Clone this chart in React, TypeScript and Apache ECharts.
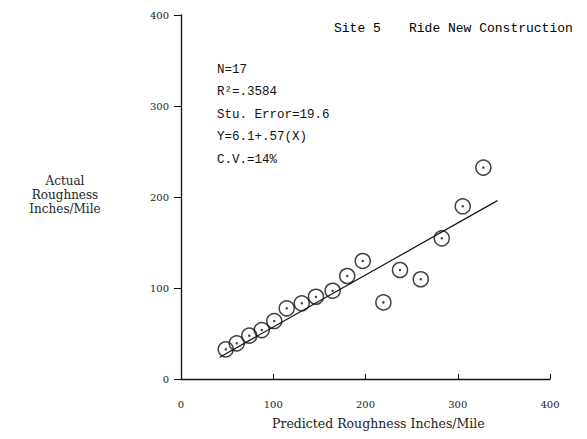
import React, { useEffect, useRef } from "react";
import * as echarts from "echarts";

const xTicks = [0, 100, 200, 300, 400];
const yTicks = [0, 100, 200, 300, 400];

const predicted = [48.5, 60.4, 74.0, 87.5, 101.1, 114.6, 130.9, 146.3, 164.4, 180.2, 197.0, 219.4, 237.4, 259.9, 282.7, 305.4, 327.8];
const actual = [32.6, 39.2, 47.6, 53.8, 63.7, 77.7, 83.2, 90.4, 97.0, 113.2, 129.7, 84.2, 119.8, 109.6, 154.6, 189.8, 232.3];

const fitLine = [
  [42, 24],
  [343, 196],
];

const statsLines = ["N=17", "R²=.3584", "Stu. Error=19.6", "Y=6.1+.57(X)", "C.V.=14%"];
const siteLabel = "Site 5";
const titleLabel = "Ride New Construction";
const xName = "Predicted Roughness Inches/Mile";
const yName = "Actual\nRoughness\nInches/Mile";

export default function App() {
  const ref = useRef<HTMLDivElement>(null);
  useEffect(() => {
    if (!ref.current) return;
    const chart = echarts.init(ref.current, null, { renderer: "svg" });
    const pts = predicted.map((x, i) => [x, actual[i]]);
    const serif = "DejaVu Serif";
    const mono = "Liberation Mono";
    chart.setOption({
      animation: false,
      backgroundColor: "#fff",
      grid: { left: 181, right: 37, top: 15, bottom: 60, containLabel: false },
      xAxis: {
        type: "value",
        min: xTicks[0],
        max: xTicks[xTicks.length - 1],
        interval: 100,
        splitLine: { show: false },
        axisLine: { lineStyle: { color: "#111", width: 1.3 } },
        axisTick: { inside: true, length: 5, lineStyle: { color: "#111" } },
        axisLabel: { color: "#222", fontFamily: serif, fontSize: 10, margin: 20 },
      },
      yAxis: {
        type: "value",
        min: yTicks[0],
        max: yTicks[yTicks.length - 1],
        interval: 100,
        splitLine: { show: false },
        axisLine: { show: true, lineStyle: { color: "#111", width: 1.3 } },
        axisTick: { show: true, length: 7, lineStyle: { color: "#111" } },
        axisLabel: { color: "#222", fontFamily: serif, fontSize: 10, margin: 12 },
      },
      graphic: [
        {
          type: "text",
          left: 334,
          top: 22,
          style: { text: siteLabel, font: `13px ${mono}`, fill: "#000" },
        },
        {
          type: "text",
          left: 409,
          top: 22,
          style: { text: titleLabel, font: `13px ${mono}`, fill: "#000" },
        },
        ...statsLines.map((t, i) => ({
          type: "text",
          left: 217,
          top: 63 + i * 22.5,
          style: { text: t, font: `12.5px ${mono}`, fill: "#111" },
        })),
        {
          type: "text",
          x: 65,
          y: 174,
          style: {
            text: yName,
            font: `12px ${serif}`,
            fill: "#222",
            textAlign: "center",
            lineHeight: 14,
          },
        },
        {
          type: "text",
          left: 272,
          top: 417,
          style: { text: xName, font: `12.5px ${serif}`, fill: "#222" },
        },
      ],
      series: [
        {
          type: "line",
          data: fitLine,
          showSymbol: false,
          symbol: "none",
          lineStyle: { color: "#111", width: 1.2 },
          z: 1,
        },
        {
          type: "scatter",
          data: pts,
          symbol: "circle",
          symbolSize: 15,
          itemStyle: { color: "rgba(255,255,255,0)", borderColor: "#111", borderWidth: 1.5 },
          z: 2,
        },
        {
          type: "scatter",
          data: pts,
          symbol: "circle",
          symbolSize: 2.5,
          itemStyle: { color: "#111" },
          z: 3,
        },
      ],
    });
    return () => chart.dispose();
  }, []);
  return <div ref={ref} style={{ width: 587, height: 439, position: "absolute", left: 0, top: 0 }} />;
}
